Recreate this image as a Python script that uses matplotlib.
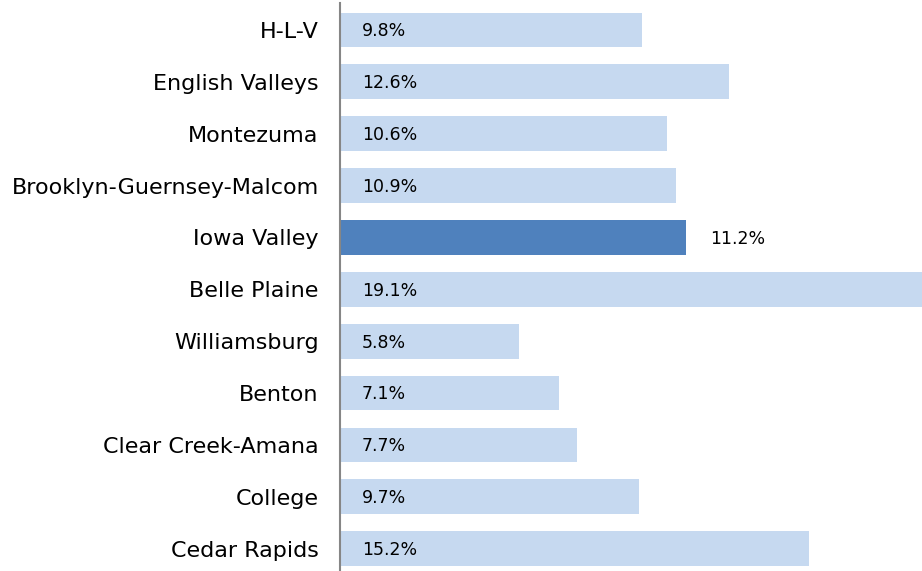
import matplotlib.pyplot as plt

districts = ['H-L-V', 'English Valleys', 'Montezuma', 'Brooklyn-Guernsey-Malcom',
             'Iowa Valley', 'Belle Plaine', 'Williamsburg', 'Benton',
             'Clear Creek-Amana', 'College', 'Cedar Rapids']
pct = [9.8, 12.6, 10.6, 10.9, 11.2, 19.1, 5.8, 7.1, 7.7, 9.7, 15.2]
highlight = 'Iowa Valley'

plt.rcParams['font.family'] = ['DejaVu Sans']

fig = plt.figure(figsize=(9.22, 5.71), dpi=100)
ax = fig.add_axes([339.5 / 922, 0, 1 - 339.5 / 922, 1 - 3 / 571])

colors = ['#4F81BD' if d == highlight else '#C6D9F0' for d in districts]
pos = range(len(districts))
ax.barh(pos, pct, height=0.67, color=colors, zorder=2)

for i, (d, v) in enumerate(zip(districts, pct)):
    if d == highlight:
        ax.annotate('%.1f%%' % v, (v, i), xytext=(18, -1), textcoords='offset points',
                    ha='left', va='center', fontsize=12.5, color='#000000')
    else:
        ax.annotate('%.1f%%' % v, (0, i), xytext=(16, -1), textcoords='offset points',
                    ha='left', va='center', fontsize=12.5, color='#000000')

ax.set_yticks(list(pos))
ax.set_yticklabels(districts, fontsize=16)
ax.tick_params(axis='y', length=0, pad=15)
ax.set_xticks([])
ax.set_xlim(0, 18.85)
ax.set_ylim(10.43, -0.52)
for s in ['top', 'right', 'bottom']:
    ax.spines[s].set_visible(False)
ax.spines['left'].set_color('#868686')
ax.spines['left'].set_linewidth(1.5)
ax.spines['left'].set_zorder(3)

fig.savefig('out.png', dpi=100)
